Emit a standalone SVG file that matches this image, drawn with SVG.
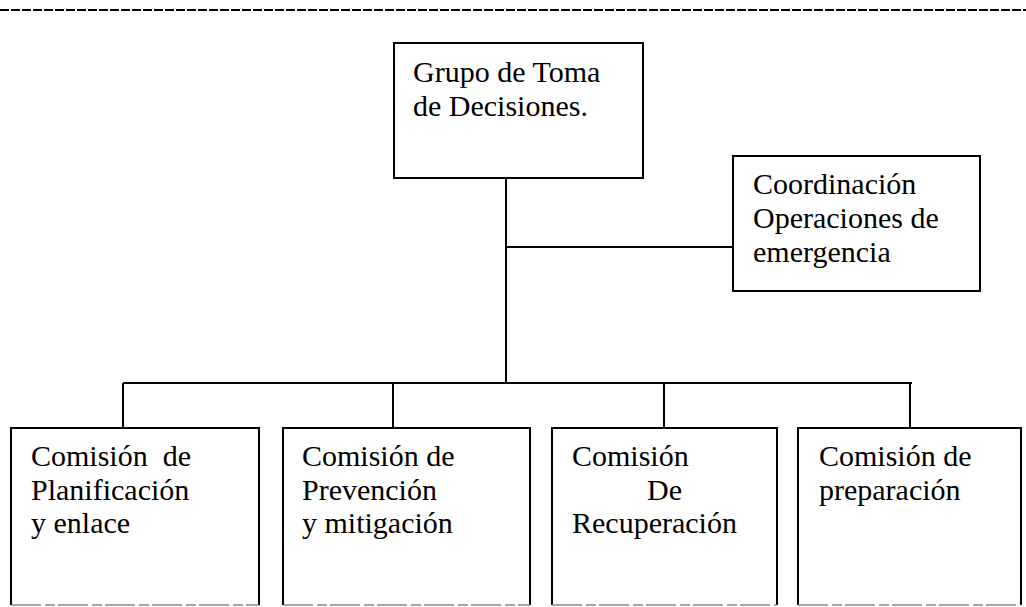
<svg xmlns="http://www.w3.org/2000/svg" width="1026" height="607" viewBox="0 0 1026 607">
<style>
.box{fill:none;stroke:#000;stroke-width:2}
.bot{fill:none;stroke:#888;stroke-width:1.5;stroke-dasharray:30,4,10,3}
.ln{fill:none;stroke:#000;stroke-width:2}
.t{font-family:'Liberation Serif','Times New Roman','DejaVu Serif',serif;font-size:30px;fill:#000}
</style>
<rect width="1026" height="607" fill="#fff"/>
<line x1="0" y1="10" x2="1026" y2="10" stroke="#000" stroke-width="2" stroke-dasharray="9,2"/>
<g id="connectors">
<path class="ln" d="M506,178 V383"/>
<path class="ln" d="M506,247 H733"/>
<path class="ln" d="M123,383 H912"/>
<path class="ln" d="M123,383 V428 M393,383 V428 M664,383 V428 M910,383 V428"/>
</g>
<g id="n-grupo" class="t" font-family="Liberation Serif, serif">
<rect class="box" x="394" y="43" width="249" height="135"/>
<text x="413" y="82">Grupo de Toma</text>
<text x="413" y="116">de Decisiones.</text>
</g>
<g id="n-coord" class="t" font-family="Liberation Serif, serif">
<rect class="box" x="733" y="156" width="247" height="135"/>
<text x="753" y="194">Coordinación</text>
<text x="753" y="228">Operaciones de</text>
<text x="753" y="262">emergencia</text>
</g>
<g id="n-planif" class="t" font-family="Liberation Serif, serif">
<path class="box" d="M11,605 V428 H259 V605"/>
<line class="bot" x1="11" y1="605" x2="259" y2="605"/>
<text x="31" y="466" xml:space="preserve">Comisión  de</text>
<text x="31" y="500">Planificación</text>
<text x="31" y="533">y enlace</text>
</g>
<g id="n-prev" class="t" font-family="Liberation Serif, serif">
<path class="box" d="M283,605 V428 H530 V605"/>
<line class="bot" x1="283" y1="605" x2="530" y2="605"/>
<text x="302" y="466">Comisión de</text>
<text x="302" y="500">Prevención</text>
<text x="302" y="533">y mitigación</text>
</g>
<g id="n-recup" class="t" font-family="Liberation Serif, serif">
<path class="box" d="M552,605 V428 H777 V605"/>
<line class="bot" x1="552" y1="605" x2="777" y2="605"/>
<text x="572" y="466">Comisión</text>
<text x="647" y="500">De</text>
<text x="572" y="533">Recuperación</text>
</g>
<g id="n-prep" class="t" font-family="Liberation Serif, serif">
<path class="box" d="M798,605 V428 H1021 V605"/>
<line class="bot" x1="798" y1="605" x2="1021" y2="605"/>
<text x="819" y="466">Comisión de</text>
<text x="819" y="500">preparación</text>
</g>
</svg>
